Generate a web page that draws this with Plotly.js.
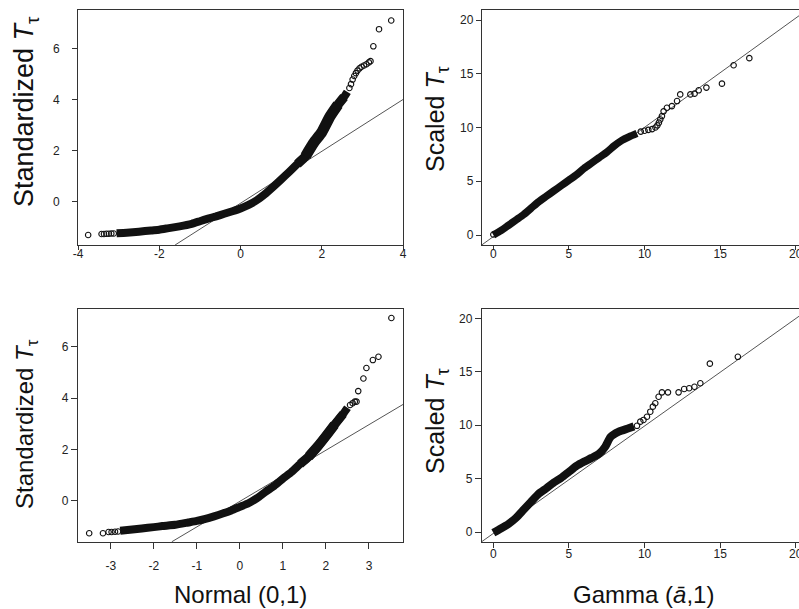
<!DOCTYPE html>
<html><head><meta charset="utf-8">
<script src="https://cdn.plot.ly/plotly-3.0.1.min.js"></script>
<style>html,body{margin:0;padding:0;background:#fff;overflow:hidden}#chart{width:815px;height:609px}</style>
</head><body><div id="chart"></div>
<script>
// ---------- Data ----------
// Top-left: Standardized T vs Normal(0,1)
const tlBandX = [-3.05,-2.8,-2.5,-2.2,-2.0,-1.8,-1.5,-1.2,-1.0,-0.8,-0.6,-0.4,-0.2,0.0,0.2,0.4,0.6,0.8,1.0,1.2,1.4,1.6,1.8,2.0,2.2,2.4,2.55,2.63];
const tlBandY = [-1.23,-1.21,-1.17,-1.12,-1.09,-1.04,-0.96,-0.86,-0.76,-0.66,-0.57,-0.47,-0.37,-0.26,-0.12,0.06,0.30,0.58,0.87,1.17,1.48,1.78,2.30,2.72,3.33,3.80,4.10,4.30];
const tlPtsX = [-3.75,-3.42,-3.36,-3.30,-3.24,-3.18,-3.12,2.68,2.72,2.76,2.80,2.84,2.88,2.93,2.98,3.04,3.10,3.16,3.20,3.27,3.41,3.71];
const tlPtsY = [-1.30,-1.26,-1.26,-1.25,-1.25,-1.24,-1.24,4.45,4.60,4.78,4.92,5.03,5.13,5.22,5.28,5.33,5.38,5.45,5.50,6.08,6.75,7.09];
const tlLineX = [-1.61, 4.0];
const tlLineY = [-1.69, 4.0];

// Top-right: Scaled T vs Gamma
const trBandX = [0,0.5,1.0,1.5,2.0,2.5,3.0,3.5,4.0,4.5,5.0,5.5,6.0,6.5,7.0,7.5,8.0,8.5,9.0,9.5];
const trBandY = [0,0.4,0.9,1.4,1.9,2.5,3.1,3.6,4.1,4.6,5.1,5.6,6.2,6.7,7.2,7.7,8.3,8.8,9.15,9.45];
const trPtsX = [0.0,9.75,10.0,10.25,10.5,10.72,10.85,10.95,11.04,11.15,11.26,11.48,11.81,12.15,12.36,13.03,13.31,13.58,14.09,15.12,15.89,16.93];
const trPtsY = [0.05,9.62,9.70,9.78,9.85,10.0,10.2,10.45,10.75,11.06,11.5,11.84,11.99,12.46,13.08,13.08,13.15,13.46,13.71,14.08,15.79,16.45];
const trLineX = [-0.75, 20.81];
const trLineY = [-0.91, 21.0];

// Bottom-left: Standardized T vs Normal(0,1)
const blBandX = [-2.78,-2.5,-2.28,-2.0,-1.8,-1.5,-1.2,-1.0,-0.8,-0.6,-0.4,-0.2,0.0,0.2,0.4,0.6,0.8,1.0,1.2,1.4,1.6,1.8,2.0,2.2,2.4,2.5];
const blBandY = [-1.17,-1.12,-1.08,-1.03,-0.99,-0.94,-0.85,-0.79,-0.71,-0.61,-0.50,-0.38,-0.24,-0.10,0.10,0.35,0.58,0.86,1.12,1.43,1.72,2.10,2.52,2.96,3.38,3.62];
const blPtsX = [-3.50,-3.18,-3.05,-2.98,-2.90,-2.83,2.56,2.62,2.67,2.71,2.75,2.87,2.94,3.09,3.22,3.52];
const blPtsY = [-1.27,-1.27,-1.22,-1.22,-1.21,-1.20,3.73,3.80,3.86,3.86,4.27,4.76,5.17,5.48,5.61,7.12];
const blLineX = [-1.58, 3.79];
const blLineY = [-1.60, 3.75];

// Bottom-right: Scaled T vs Gamma
const brBandX = [0,0.5,1.0,1.5,2.0,2.5,3.0,3.5,4.0,4.5,5.0,5.5,6.0,6.5,7.0,7.4,7.75,8.3,8.9,9.3];
const brBandY = [-0.05,0.35,0.78,1.35,2.1,2.85,3.6,4.1,4.65,5.1,5.65,6.2,6.6,6.95,7.35,8.0,8.9,9.4,9.7,9.9];
const brPtsX = [9.5,9.72,9.93,10.16,10.38,10.55,10.71,10.93,11.15,11.55,12.25,12.62,12.95,13.3,13.69,14.32,16.17];
const brPtsY = [9.95,10.34,10.5,10.8,11.27,11.74,12.06,12.67,13.08,13.08,13.08,13.39,13.46,13.6,13.93,15.76,16.4];
const brLineX = [-0.75, 20.81];
const brLineY = [-0.86, 20.79];

// Tick labels
const normTopTicks = [-4,-2,0,2,4];
const normTopText = ['-4','-2','0','2','4'];
const normBotTicks = [-3,-2,-1,0,1,2,3];
const normBotText = ['-3','-2','-1','0','1','2','3'];
const stdTicks = [0,2,4,6];
const stdText = ['0','2','4','6'];
const gamTicks = [0,5,10,15,20];
const gamText = ['0','5','10','15','20'];

// Titles
const yTitleStd = 'Standardized <i>T</i><sub>τ</sub>';
const yTitleScaled = 'Scaled <i>T</i><sub>τ</sub>';
const xTitleNormal = 'Normal (0,1)';
const xTitleGamma = 'Gamma (<i>ā</i>,1)';

// ---------- Layout helpers ----------
const W = 815, H = 609;   // page is 799 wide; the right panels' frame runs off the edge as in the reference
const FONT = 'Liberation Sans, Arial, Helvetica, sans-serif';
const dx = (a, b) => [a / W, b / W];
const dy = (top, bot) => [1 - bot / H, 1 - top / H];

function band(x, y, xa, ya, w) {
  return {x, y, xaxis: xa, yaxis: ya, type: 'scatter', mode: 'lines',
    line: {color: '#111', width: w, shape: 'spline', smoothing: 0.5},
    hoverinfo: 'skip', showlegend: false};
}
function pts(x, y, xa, ya) {
  return {x, y, xaxis: xa, yaxis: ya, type: 'scatter', mode: 'markers',
    marker: {symbol: 'circle-open', size: 5.5, color: '#111', line: {width: 1.1, color: '#111'}},
    hoverinfo: 'skip', showlegend: false, cliponaxis: false};
}
function refl(x, y, xa, ya) {
  return {x, y, xaxis: xa, yaxis: ya, type: 'scatter', mode: 'lines',
    line: {color: '#555', width: 1}, hoverinfo: 'skip', showlegend: false};
}
// the steep, more scattered part of the point cloud looks thicker
const seg = (arr, a, b) => arr.slice(a, b);

const data = [
  refl(tlLineX, tlLineY, 'x', 'y'), band(tlBandX, tlBandY, 'x', 'y', 8),
  band(seg(tlBandX, 20, 27), seg(tlBandY, 20, 27), 'x', 'y', 9.5),
  band(seg(tlBandX, 21, 26), seg(tlBandY, 21, 26), 'x', 'y', 11), pts(tlPtsX, tlPtsY, 'x', 'y'),
  refl(trLineX, trLineY, 'x2', 'y2'), band(trBandX, trBandY, 'x2', 'y2', 7.5), pts(trPtsX, trPtsY, 'x2', 'y2'),
  refl(blLineX, blLineY, 'x3', 'y3'), band(blBandX, blBandY, 'x3', 'y3', 8),
  band(seg(blBandX, 19, 25), seg(blBandY, 19, 25), 'x3', 'y3', 9),
  band(seg(blBandX, 20, 24), seg(blBandY, 20, 24), 'x3', 'y3', 10), pts(blPtsX, blPtsY, 'x3', 'y3'),
  refl(brLineX, brLineY, 'x4', 'y4'), band(brBandX, brBandY, 'x4', 'y4', 8), pts(brPtsX, brPtsY, 'x4', 'y4'),
  // empty trace so the label-only overlay axis of the top-left panel is drawn
  {x: [], y: [], xaxis: 'x', yaxis: 'y5', type: 'scatter', mode: 'markers', hoverinfo: 'skip', showlegend: false}
];

function xax(domain, range, anchor, tv, tt, tlen, stand) {
  return {domain, range, anchor, tickmode: 'array', tickvals: tv, ticktext: tt,
    ticks: 'outside', ticklen: tlen, tickwidth: 1, tickcolor: '#333',
    showline: true, linecolor: '#333', linewidth: 1.2, mirror: true,
    showgrid: false, zeroline: false, fixedrange: true,
    tickfont: {family: FONT, size: 12, color: '#222'}, ticklabelstandoff: stand};
}
function yax(domain, range, anchor, tv, tt, tlen, mirror, labels) {
  return {domain, range, anchor, tickmode: 'array', tickvals: tv, ticktext: tt,
    ticks: 'outside', ticklen: tlen, tickwidth: 1, tickcolor: '#333',
    showline: true, linecolor: '#333', linewidth: 1.2, mirror: mirror,
    showgrid: false, zeroline: false, fixedrange: true, showticklabels: labels,
    tickfont: {family: FONT, size: 12, color: '#222'}};
}

const layout = {
  width: W, height: H, margin: {l: 0, r: 0, t: 0, b: 0},
  paper_bgcolor: '#fff', plot_bgcolor: '#fff', showlegend: false,
  font: {family: FONT, color: '#222'},
  xaxis:  xax(dx(78, 403), [-4.0, 4.0], 'y', normTopTicks, normTopText, 4, -7),
  yaxis:  yax(dy(10, 245), [-1.69, 7.5], 'x', stdTicks, stdText, 5, true, false),
  // labels of the top-left y axis sit farther from the frame than the tick marks reach
  yaxis5: {overlaying: 'y', anchor: 'x', side: 'left', range: [-1.69, 7.5], tickmode: 'array',
    tickvals: stdTicks, ticktext: stdText, ticks: 'outside', ticklen: 15, tickcolor: 'rgba(0,0,0,0)',
    showline: false, showgrid: false, zeroline: false, fixedrange: true,
    tickfont: {family: FONT, size: 12, color: '#222'}},
  xaxis2: xax(dx(482, 808), [-0.75, 20.81], 'y2', gamTicks, gamText, 4, -7),
  yaxis2: yax(dy(10, 245), [-0.93, 20.93], 'x2', gamTicks, gamText, 5, false, true),
  xaxis3: xax(dx(78, 403), [-3.76, 3.79], 'y3', normBotTicks, normBotText, 6, 6),
  yaxis3: yax(dy(309, 542), [-1.61, 7.47], 'x3', stdTicks, stdText, 6, true, true),
  xaxis4: xax(dx(482, 808), [-0.75, 20.81], 'y4', gamTicks, gamText, 5, -5),
  yaxis4: yax(dy(309, 542), [-0.91, 20.87], 'x4', gamTicks, gamText, 6, false, true),
  annotations: [
    {text: yTitleStd, xref: 'paper', yref: 'paper', x: 26 / W, y: 1 - 112 / H, textangle: -90,
     showarrow: false, xanchor: 'center', yanchor: 'middle', font: {family: FONT, size: 27, color: '#111'}},
    {text: yTitleScaled, xref: 'paper', yref: 'paper', x: 437 / W, y: 1 - 119 / H, textangle: -90,
     showarrow: false, xanchor: 'center', yanchor: 'middle', font: {family: FONT, size: 25, color: '#111'}},
    {text: yTitleStd, xref: 'paper', yref: 'paper', x: 26 / W, y: 1 - 424 / H, textangle: -90,
     showarrow: false, xanchor: 'center', yanchor: 'middle', font: {family: FONT, size: 24, color: '#111'}},
    {text: yTitleScaled, xref: 'paper', yref: 'paper', x: 437 / W, y: 1 - 421 / H, textangle: -90,
     showarrow: false, xanchor: 'center', yanchor: 'middle', font: {family: FONT, size: 25, color: '#111'}},
    {text: xTitleNormal, xref: 'paper', yref: 'paper', x: 240 / W, y: 1 - 594 / H,
     showarrow: false, xanchor: 'center', yanchor: 'middle', font: {family: FONT, size: 24, color: '#111'}},
    {text: xTitleGamma, xref: 'paper', yref: 'paper', x: 643 / W, y: 1 - 594 / H,
     showarrow: false, xanchor: 'center', yanchor: 'middle', font: {family: FONT, size: 24, color: '#111'}}
  ]
};

Plotly.newPlot('chart', data, layout, {staticPlot: true, displayModeBar: false});
</script></body></html>
